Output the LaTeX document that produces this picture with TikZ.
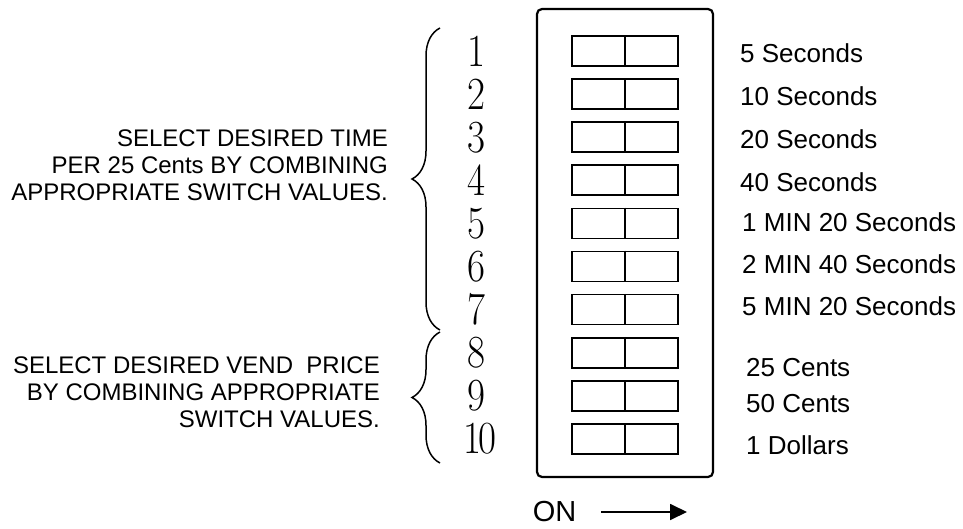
\documentclass[tikz,border=0pt]{standalone}
\usepackage{fontspec}
\setsansfont{Liberation Sans}
\usetikzlibrary{decorations.pathreplacing,arrows.meta}
\begin{document}
\begin{tikzpicture}[x=1pt,y=-1pt,
  casebox/.style={draw, line width=2.2pt, rounded corners=5pt, minimum width=176pt, minimum height=468pt, inner sep=0pt},
  swbox/.style={draw, line width=1.6pt, minimum width=106pt, minimum height=30pt, inner sep=0pt},
  swdiv/.style={line width=2.6pt},
  digit/.style={font=\fontsize{46}{46}\selectfont, inner sep=0pt, xscale=0.85},
  lbl/.style={font=\sffamily\fontsize{26}{30}\selectfont, inner sep=0pt, anchor=base west},
  note/.style={font=\sffamily\fontsize{24}{27}\selectfont, inner sep=0pt, align=right, anchor=east},
  bracestyle/.style={decorate, decoration={brace, amplitude=28pt}, line width=1.5pt},
  onarrow/.style={line width=1.8pt, -{Triangle[length=17pt,width=16pt]}}]
\path[use as bounding box] (0,0) rectangle (963,529);

% DIP switch housing
\node[casebox] (case) at (625,243) {};

% switches
\foreach \i in {1,...,10} {
  \node[swbox] (s\i) at (625,{51+43.1*(\i-1)}) {};
  \draw[swdiv] (s\i.north) -- (s\i.south);
}

% switch numbers
\foreach \i in {1,...,9} {
  \node[digit] (n\i) at (476,{51+43.1*(\i-1)}) {\i};
}
\node[digit] (n10) at (480,439) {1\kern-3pt0};

% braces
\coordinate (b1a) at (440,330);
\coordinate (b1b) at (440,28);
\coordinate (b2a) at (440,463);
\coordinate (b2b) at (440,332);
\draw[bracestyle] (b1a) -- (b1b);
\draw[bracestyle] (b2a) -- (b2b);

% notes
\node[note] (timeNote) at (388,165) {SELECT DESIRED TIME\\PER 25 Cents BY COMBINING\\APPROPRIATE SWITCH VALUES.};
\node[note] (priceNote) at (380,392.5) {SELECT DESIRED VEND\ \ PRICE\\BY COMBINING APPROPRIATE\\SWITCH VALUES.};

% values
\node[lbl] (t1) at (740,62.3) {5 Seconds};
\node[lbl] (t2) at (740,105.3) {10 Seconds};
\node[lbl] (t3) at (740,148.3) {20 Seconds};
\node[lbl] (t4) at (740,191.3) {40 Seconds};
\node[lbl] (t5) at (742,231.3) {1 MIN 20 Seconds};
\node[lbl] (t6) at (742,273.3) {2 MIN 40 Seconds};
\node[lbl] (t7) at (742,315.3) {5 MIN 20 Seconds};
\node[lbl] (p1) at (746,376.3) {25 Cents};
\node[lbl] (p2) at (746,412.3) {50 Cents};
\node[lbl] (p3) at (746,454.3) {1 Dollars};

% ON arrow
\node[font=\sffamily\fontsize{29}{30}\selectfont, inner sep=0pt] (on) at (554.5,512) {ON};
\coordinate (onEnd) at (687,512);
\draw[onarrow] ([xshift=25pt]on.east) -- (onEnd);
\end{tikzpicture}
\end{document}
